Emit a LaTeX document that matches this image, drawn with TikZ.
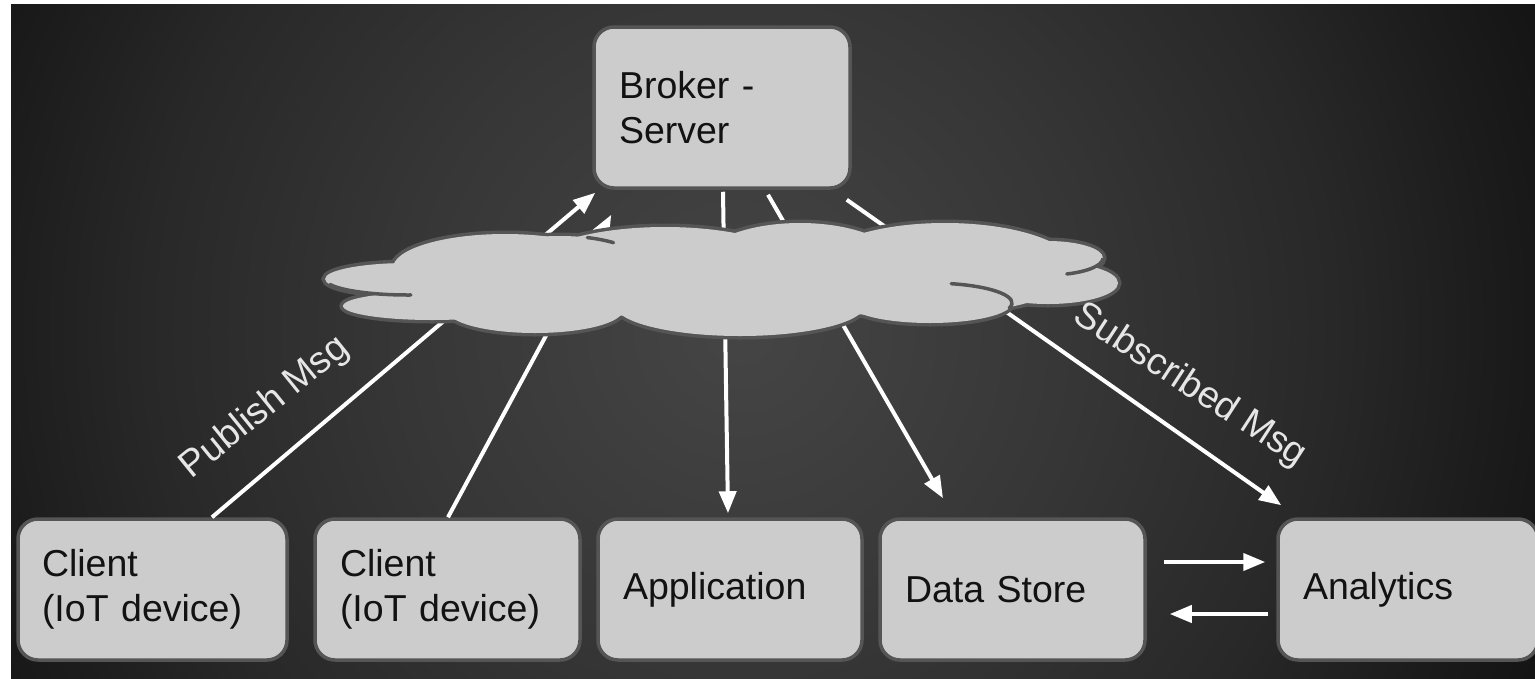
\documentclass[tikz,border=0pt]{standalone}
\usepackage{fontspec}
\setmainfont{Liberation Sans}
\usetikzlibrary{arrows.meta,calc}

\definecolor{boxfill}{HTML}{CCCCCC}
\definecolor{edgegray}{HTML}{555555}
\definecolor{msgtext}{HTML}{E6E6E6}
\definecolor{bgA}{HTML}{454545}
\definecolor{bgB}{HTML}{404040}
\definecolor{bgC}{HTML}{363636}
\definecolor{bgD}{HTML}{282828}
\definecolor{bgE}{HTML}{1C1C1C}
\definecolor{bgF}{HTML}{141414}

% soft glow behind the network, dark towards the corners
% (the path's box spans -25bp..25bp of the shading)
\pgfdeclareradialshading{bgglow}{\pgfpoint{0bp}{0bp}}{%
  color(0bp)=(bgA); color(3.3bp)=(bgB); color(9.5bp)=(bgC);
  color(16.5bp)=(bgD); color(20.8bp)=(bgE); color(24bp)=(bgF); color(36bp)=(bgF)}

\tikzset{
  box/.style={draw=edgegray, fill=boxfill, line width=3.5pt, rounded corners=20pt,
    minimum height=141pt, inner xsep=25pt, inner ysep=0pt, align=left,
    font=\fontsize{37.5}{45}\selectfont, text=black!93},
  link/.style={draw=white, line width=4pt},
  arrowlink/.style={link, -{Triangle[length=22pt,width=17pt]}},
  msg/.style={text=msgtext, font=\fontsize{37.5}{45}\selectfont, inner sep=0pt},
  cloudedge/.style={draw=edgegray, line width=3.5pt, line cap=round},
}

\begin{document}
\begin{tikzpicture}[x=1pt, y=-1pt]
  \useasboundingbox (0,0) rectangle (1535,678);
  \fill[white] (0,0) rectangle (1535,678);

  % background
  \begin{scope}
    \clip (11,4) rectangle (1535,678);
    \shade[shading=bgglow] (-160,-570) rectangle (1640,1230);
  \end{scope}

  % boxes
  \node[box, text width=206pt, minimum height=161pt] (br) at (722,107.5) {Broker -\\Server};
  \node[box, text width=221pt, inner xsep=24pt] (c1) at (152.5,589.5) {Client\\(IoT device)};
  \node[box, text width=215pt] (c2) at (447.5,589.5) {Client\\(IoT device)};
  \node[box, text width=214pt] (app) at (730,589.5) {Application};
  \node[box, text width=215pt] (ds) at (1012.5,589.5) {Data Store};
  \node[box, text width=210pt] (an) at (1408,589.5) {Analytics};

  % publish / subscribe links (pass behind the cloud)
  \draw[arrowlink] ([xshift=59.5pt]c1.north) -- ([shift={(3pt,-3pt)}]br.south west);
  \draw[arrowlink] ([xshift=0.5pt]c2.north) -- ([shift={(19pt,-25pt)}]br.south west);
  \draw[arrowlink] ([shift={(1pt,-2pt)}]br.south) -- ([shift={(-2pt,4pt)}]app.north);
  \draw[arrowlink] ([shift={(46pt,-5pt)}]br.south) -- ([shift={(-69.5pt,19pt)}]ds.north);
  \draw[arrowlink] ([shift={(-5pt,-10pt)}]br.south east) -- ([shift={(5pt,12pt)}]an.north west);
  \draw[arrowlink] ([shift={(17pt,27.5pt)}]ds.east) -- ([shift={(-11pt,27.5pt)}]an.west);
  \draw[arrowlink] ([shift={(-8pt,-24.5pt)}]an.west) -- ([shift={(23pt,-24.5pt)}]ds.east);

  % cloud: union of lobes, outlined first, then filled
  \def\lobes{408/279/83/16, 432/306/89/14, 505/268/112/34, 560/262/80/26,
    535/310/88/23, 665/272/140/45, 800/265/100/42, 945/268/130/45,
    1048/258/55/17, 1048/283/70/21, 930/303/82/20, 740/305/125/31}
  \foreach \x/\y/\a/\b in \lobes
    \draw[draw=edgegray, line width=7pt] (\x,\y) ellipse [x radius=\a pt, y radius=\b pt];
  \foreach \x/\y/\a/\b in \lobes
    \fill[boxfill] (\x,\y) ellipse [x radius=\a pt, y radius=\b pt];
  \fill[boxfill] (730,282) ellipse [x radius=300pt, y radius=36pt];

  % lobe edges that show inside the cloud
  \coordinate (e1) at (408,279);
  \coordinate (e3) at (560,262);
  \coordinate (e8) at (1048,258);
  \coordinate (e10) at (930,303);
  \draw[cloudedge] ([shift={(200:83pt and 16pt)}]e1)
    arc[start angle=200, end angle=272, x radius=83pt, y radius=16pt];
  \draw[cloudedge] ([shift={(70:80pt and 26pt)}]e3)
    arc[start angle=70, end angle=48, x radius=80pt, y radius=26pt];
  \draw[cloudedge] ([shift={(-3:55pt and 17pt)}]e8)
    arc[start angle=-3, end angle=-70, x radius=55pt, y radius=17pt];
  \draw[cloudedge] ([shift={(75:82pt and 20pt)}]e10)
    arc[start angle=75, end angle=-15, x radius=82pt, y radius=20pt];

  % link labels
  \node[msg, rotate=39] (pub) at (265,408) {Publish Msg};
  \node[msg, rotate=-33] (sub) at (1190,386) {Subscribed Msg};
\end{tikzpicture}
\end{document}
